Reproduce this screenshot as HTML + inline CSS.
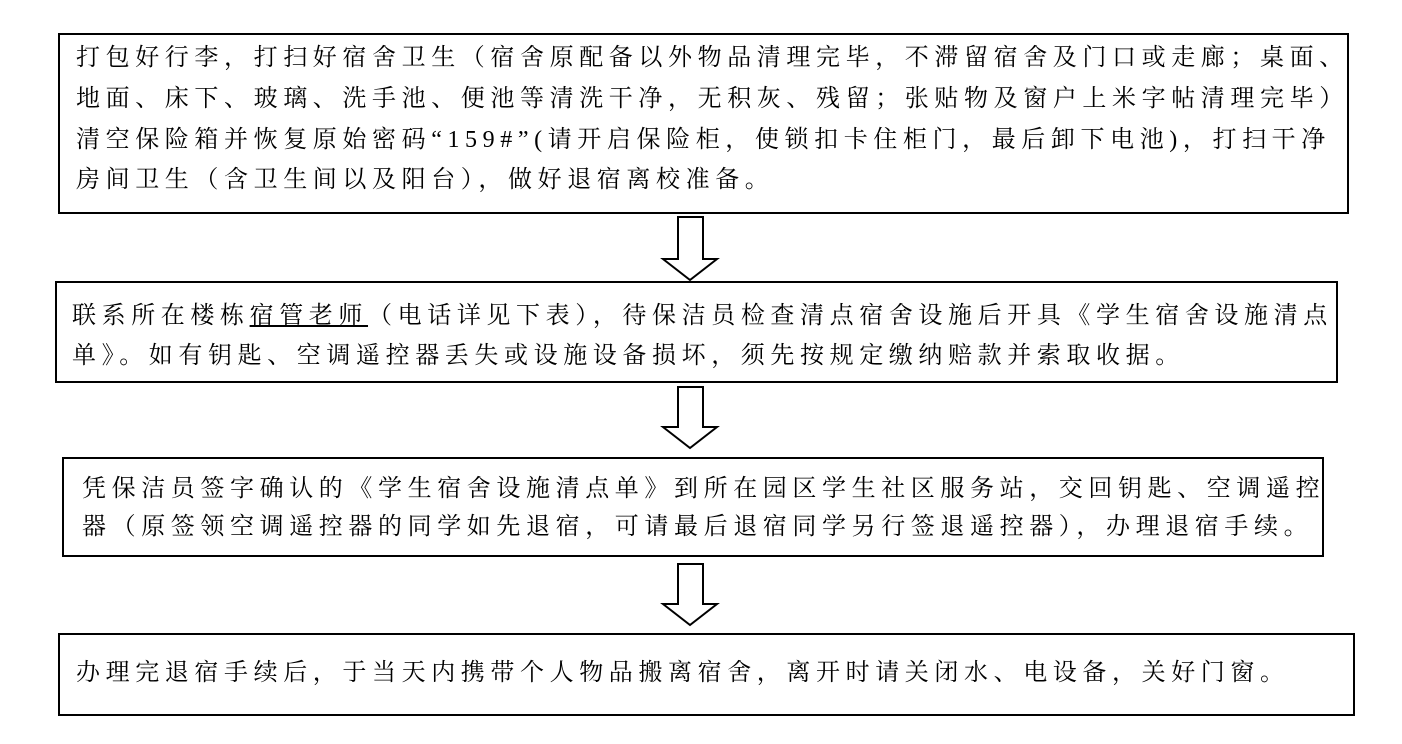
<!DOCTYPE html>
<html><head><meta charset="utf-8"><style>
body{margin:0;background:#fff;width:1402px;height:744px;position:relative;overflow:hidden;font-family:"Liberation Serif","Noto Serif CJK SC",serif;color:#000}
.b{position:absolute;border:2.5px solid #000;box-sizing:border-box}
.t{position:absolute;font-size:24px;line-height:40px;height:40px;white-space:nowrap;letter-spacing:5.6px}
svg{position:absolute;left:0;top:0}
</style></head><body>
<div class="b" style="left:58px;top:33px;width:1291px;height:181px"></div>
<div class="b" style="left:55px;top:281px;width:1283px;height:102px"></div>
<div class="b" style="left:62px;top:457px;width:1262px;height:100px"></div>
<div class="b" style="left:58px;top:633px;width:1297px;height:83px"></div>
<svg width="1402" height="744">
<g fill="#fff" stroke="#000" stroke-width="2">
<polygon points="678,217 703,217 703,259 717,259 690,280 663,259 678,259"/>
<polygon points="678,387 703,387 703,427 717,427 690,448 663,427 678,427"/>
<polygon points="678,564 703,564 703,604 717,604 690,625 663,604 678,604"/>
</g></svg>
<div class="t" style="left:76px;top:38px">打包好行李，打扫好宿舍卫生（宿舍原配备以外物品清理完毕，不滞留宿舍及门口或走廊；桌面、</div>
<div class="t" style="left:76px;top:79px">地面、床下、玻璃、洗手池、便池等清洗干净，无积灰、残留；张贴物及窗户上米字帖清理完毕）</div>
<div class="t" style="left:76px;top:120px">清空保险箱并恢复原始密码“159#”(请开启保险柜，使锁扣卡住柜门，最后卸下电池)，打扫干净</div>
<div class="t" style="left:76px;top:160px">房间卫生（含卫生间以及阳台），做好退宿离校准备。</div>
<div class="t" style="left:72px;top:296px">联系所在楼栋<span style="text-decoration:underline">宿管老师</span>（电话详见下表），待保洁员检查清点宿舍设施后开具《学生宿舍设施清点</div>
<div class="t" style="left:72px;top:336px">单》。如有钥匙、空调遥控器丢失或设施设备损坏，须先按规定缴纳赔款并索取收据。</div>
<div class="t" style="left:82px;top:469px">凭保洁员签字确认的《学生宿舍设施清点单》到所在园区学生社区服务站，交回钥匙、空调遥控</div>
<div class="t" style="left:82px;top:507px">器（原签领空调遥控器的同学如先退宿，可请最后退宿同学另行签退遥控器），办理退宿手续。</div>
<div class="t" style="left:76px;top:653px">办理完退宿手续后，于当天内携带个人物品搬离宿舍，离开时请关闭水、电设备，关好门窗。</div>
</body></html>
